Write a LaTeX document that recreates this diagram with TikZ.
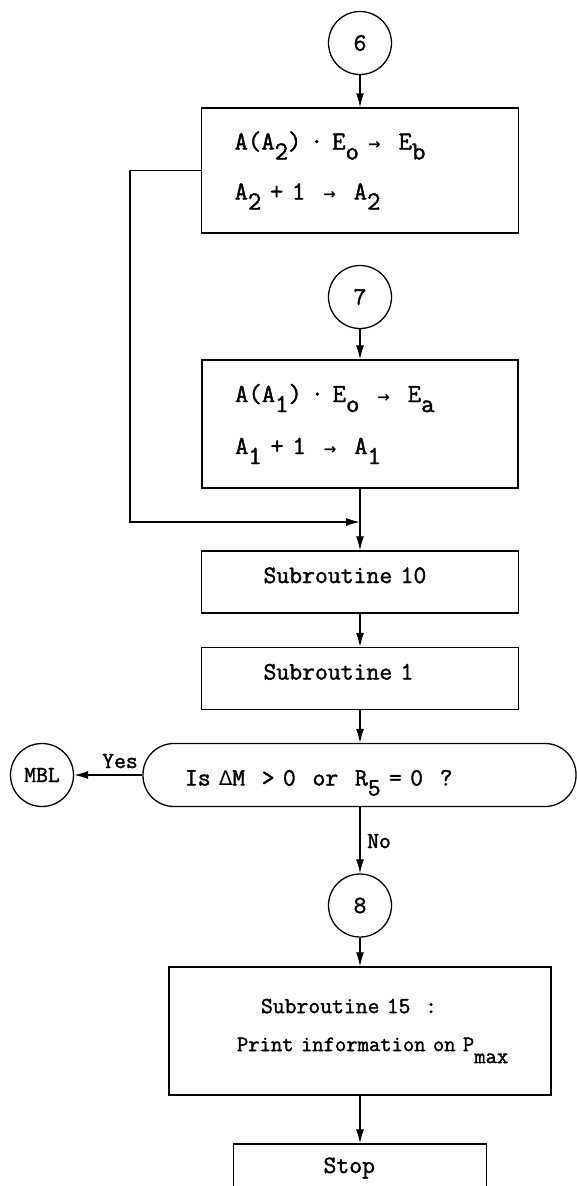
\documentclass[tikz,border=0pt]{standalone}
\usepackage{fontspec}
\setmonofont{Latin Modern Mono}[FakeBold=1.6]
\newfontfamily\symf{DejaVu Sans}
\usetikzlibrary{arrows.meta}
\newcommand\lowr[1]{\raisebox{-10pt}{#1}}
\newcommand\tcell[1]{\makebox[0.525em]{#1}}
\newcommand\arw{\tcell{\symf\bfseries\fontsize{15}{15}\selectfont →}}
\newcommand\dlt{\tcell{\symf\fontsize{20}{20}\selectfont Δ}}
\begin{document}
\begin{tikzpicture}[x=1pt,y=-1pt,
  ln/.style={line width=1.3pt},
  arr/.style={ln,-{Latex[length=14pt,width=8pt]}},
  conn/.style={draw,circle,line width=1.3pt,minimum size=63pt,inner sep=0pt,font=\fontsize{25}{25}\selectfont\ttfamily},
  pbox/.style={draw,rectangle,line width=1.3pt,inner ysep=0pt,align=left},
  one/.style={pbox,text height=14pt,text depth=12pt,font=\fontsize{25}{30}\selectfont\ttfamily},
  stad/.style={pbox,rounded corners=31pt,text height=31pt,text depth=10pt,font=\fontsize{25}{30}\selectfont\ttfamily},
  lbl/.style={inner sep=0pt,font=\fontsize{23}{25}\selectfont\ttfamily}]
\useasboundingbox (0,0) rectangle (577,1186);

\node[conn] (c6) at (360,43) {6};
\node[pbox,minimum width=317pt,minimum height=125pt,text width=251pt,inner xsep=33pt,
  font=\fontsize{26}{50}\selectfont\ttfamily] (b1) at (360,170.5)
  {A(A\lowr{2})~·~E\lowr{o}~\arw~~E\lowr{b}\\A\lowr{2}~+~1~~\arw~~A\lowr{2}};
\node[conn] (c7) at (360,297) {7};
\node[pbox,minimum width=316pt,minimum height=128pt,text width=250pt,inner xsep=33pt,
  font=\fontsize{26}{52}\selectfont\ttfamily] (b2) at (360,424)
  {A(A\lowr{1})~·~E\lowr{o}~~\arw~~E\lowr{a}\\A\lowr{1}~+~1~~\arw~~A\lowr{1}};
\coordinate (m) at (360,522);
\node[one,minimum width=317pt,minimum height=62pt,text width=193pt,inner xsep=62pt] (s10) at (360,582) {Subroutine 10};
\node[one,minimum width=317pt,minimum height=62pt,text width=193pt,inner xsep=62pt] (s1) at (360,678.5) {Subroutine 1};
\node[stad,minimum width=433pt,minimum height=63pt,text width=349pt,inner xsep=42pt] (q) at (359.5,775)
  {Is~\dlt M~~>~0~~or~~R\lowr{5}~=~0~~?};
\node[conn,font=\fontsize{23}{23}\selectfont\ttfamily] (mbl) at (42,775) {MBL};
\node[conn] (c8) at (360,905.5) {8};
\node[pbox,minimum width=382pt,minimum height=128pt,text width=342pt,inner xsep=20pt,
  font=\fontsize{22}{38}\selectfont\ttfamily] (b15) at (360,1031)
  {{\fontsize{23}{38}\selectfont\hspace*{72pt}Subroutine 15~~:}\\{\fontsize{22}{38}\selectfont\hspace*{48pt}Print information on P\raisebox{-12pt}{max}}};
\node[one,minimum width=253pt,minimum height=56pt,text width=73pt,inner xsep=90pt] (stop) at (360,1172) {Stop};

\node[lbl,anchor=base east] (yes) at (138,768) {Yes};
\node[lbl,anchor=base west] (no) at (367,848) {No};

\draw[arr] (c6) -- (b1);
\draw[arr] (c7) -- (b2);
\draw[arr] (b2) -- (s10);
\draw[arr] (b1.west) -- ++(-71,0) |- (m);
\draw[arr] (s10) -- (s1);
\draw[arr] (s1.south) -- (s1.south |- q.north);
\draw[arr] (q.west) -- (mbl);
\draw[arr] (q.south -| c8) -- (c8);
\draw[arr] (c8) -- (b15);
\draw[arr] (b15) -- (stop);
\end{tikzpicture}
\end{document}
